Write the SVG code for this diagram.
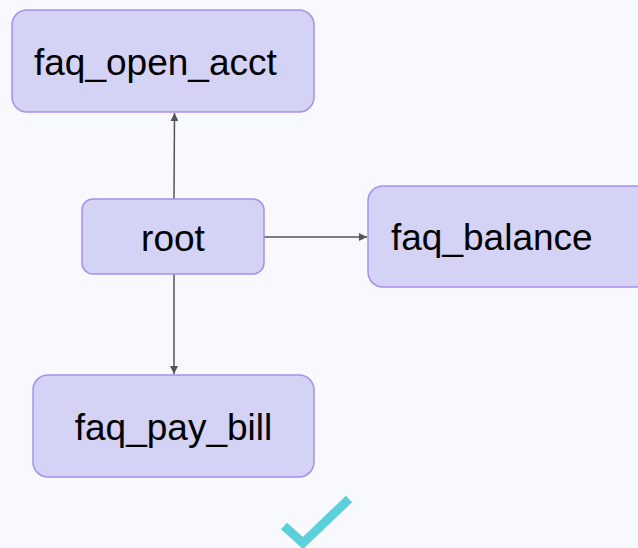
<svg xmlns="http://www.w3.org/2000/svg" width="638" height="548" viewBox="0 0 638 548">
  <style>
    .node rect { fill: #d4d2f5; stroke: #a690ec; stroke-width: 1.5; }
    .node text { font-family: "Liberation Sans", Arial, sans-serif; font-size: 37px; fill: #000; }
    .edge { stroke: #555; stroke-width: 1.5; fill: none; marker-end: url(#arrow); }
    .check { stroke: #5cd0da; stroke-width: 9; fill: none; }
  </style>
  <defs>
    <marker id="arrow" viewBox="0 0 10 10" refX="10" refY="5" markerWidth="8" markerHeight="8" markerUnits="userSpaceOnUse" orient="auto">
      <path d="M0,0 L10,5 L0,10 z" fill="#555"/>
    </marker>
  </defs>
  <rect width="638" height="548" fill="#f8f9fe"/>

  <g id="connectors">
    <line class="edge" x1="174" y1="199" x2="174.5" y2="113"/>
    <line class="edge" x1="264" y1="237" x2="367" y2="237"/>
    <line class="edge" x1="174" y1="274" x2="174" y2="374"/>
  </g>

  <g id="faq_open_acct" class="node">
    <rect x="12" y="10" width="302" height="102" rx="15"/>
    <text x="34" y="75">faq_open_acct</text>
  </g>

  <g id="root" class="node">
    <rect x="82" y="199" width="182" height="75" rx="11"/>
    <text x="173" y="251" text-anchor="middle">root</text>
  </g>

  <g id="faq_balance" class="node">
    <rect x="368" y="186" width="290" height="101" rx="15"/>
    <text x="391" y="250">faq_balance</text>
  </g>

  <g id="faq_pay_bill" class="node">
    <rect x="33" y="375" width="281" height="102" rx="15"/>
    <text x="173.5" y="440" text-anchor="middle">faq_pay_bill</text>
  </g>

  <polyline class="check" points="284,526 303,543 349,499"/>
</svg>
